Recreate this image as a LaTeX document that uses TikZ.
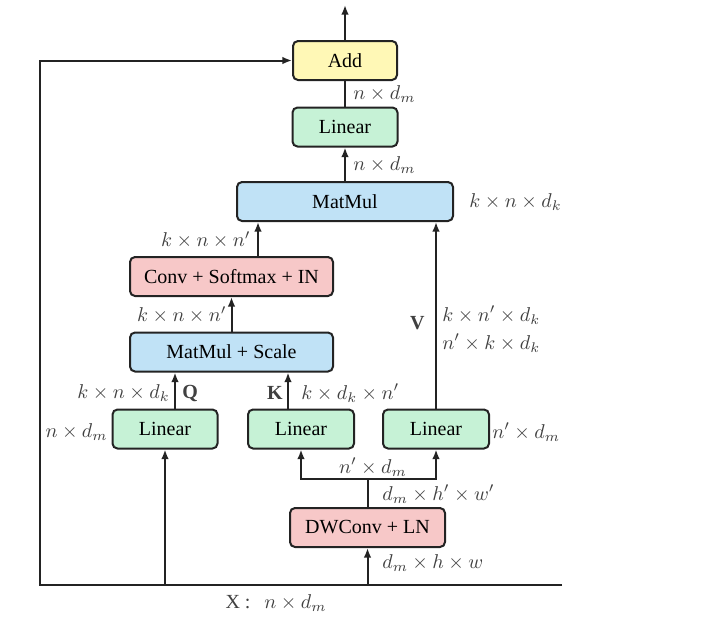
\documentclass[tikz,border=0pt]{standalone}
\usepackage{fontspec}
\setmainfont{Liberation Serif}
\usetikzlibrary{arrows.meta,calc}
\definecolor{addc}{RGB}{255,248,182}
\definecolor{linc}{RGB}{198,242,214}
\definecolor{mmc}{RGB}{192,226,246}
\definecolor{convc}{RGB}{247,200,200}
\definecolor{edge}{RGB}{35,35,35}
\begin{document}
\begin{tikzpicture}[x=0.5pt,y=-0.5pt,
  box/.style={draw=edge,line width=1pt,rounded corners=2.5pt,minimum height=19.5pt,inner sep=0pt,font=\fontsize{10}{12}\selectfont},
  arr/.style={-{Latex[length=4.8pt,width=3.8pt]},line width=1pt,draw=edge},
  ln/.style={line width=1pt,draw=edge},
  lbl/.style={font=\fontsize{10}{12}\selectfont,inner sep=1pt,text=black!75}]
\fill[white] (0,0) rectangle (710,622);
\useasboundingbox (0,0) rectangle (710,622);

% boxes
\node[box,fill=addc,minimum width=52pt] (add) at (345,60.5) {Add};
\node[box,fill=linc,minimum width=52.5pt] (lin) at (345,127) {Linear};
\node[box,fill=mmc,minimum width=108pt] (mm) at (345,201.5) {MatMul};
\node[box,fill=convc,minimum width=101.5pt] (conv) at (231.5,276.5) {Conv + Softmax + IN};
\node[box,fill=mmc,minimum width=101.5pt] (mms) at (231.5,352) {MatMul + Scale};
\node[box,fill=linc,minimum width=52.5pt] (lq) at (165,429) {Linear};
\node[box,fill=linc,minimum width=53pt] (lk) at (301,429) {Linear};
\node[box,fill=linc,minimum width=53pt] (lv) at (436,429) {Linear};
\node[box,fill=convc,minimum width=77.5pt] (dw) at (367.5,527.5) {DWConv + LN};

% coordinates
\coordinate (top) at (345,5);
\coordinate (xl) at (40,585);
\coordinate (xr) at (562,585);
\coordinate (split) at (367.5,479);
\coordinate (qo) at (175,410);
\coordinate (ko) at (288,410);
\coordinate (co) at (258,257);

% connectors
\draw[arr] (add.north) -- (top);
\draw[ln] (lin.north) -- (add.south);
\draw[arr] (mm.north) -- (lin.south);
\draw[arr] (co) -- (co |- mm.south);
\draw[arr] (lv.north) -- (lv.north |- mm.south);
\draw[arr] (mms.north) -- (conv.south);
\draw[arr] (qo) -- (qo |- mms.south);
\draw[arr] (ko) -- (ko |- mms.south);
\draw[arr] (xr) -- (xl) -- (xl |- add.west) -- (add.west);
\draw[arr] (xl -| lq.south) -- (lq.south);
\draw[arr] (xl -| dw.south) -- (dw.south);
\draw[ln] (dw.north) -- (split);
\draw[arr] (split) -| (lk.south);
\draw[arr] (split) -| (lv.south);

% labels
\node[lbl,anchor=west] (l1) at (351,94) {$n\times d_m$};
\node[lbl,anchor=west] (l2) at (351,165) {$n\times d_m$};
\node[lbl,anchor=west] (l3) at (467,202) {$k\times n\times d_k$};
\node[lbl,anchor=east] (l4) at (253,240) {$k\times n\times n'$};
\node[lbl,anchor=east] (l5) at (229,315) {$k\times n\times n'$};
\node[lbl,anchor=east] (l6) at (172,393) {$k\times n\times d_k$};
\node[lbl,anchor=west] (l7) at (180,393) {\textbf{Q}};
\node[lbl,anchor=east] (l8) at (285,393) {\textbf{K}};
\node[lbl,anchor=west] (l9) at (299,393) {$k\times d_k\times n'$};
\node[lbl,anchor=east] (l10) at (110,432) {$n\times d_m$};
\node[lbl,anchor=west] (l11) at (490,432) {$n'\times d_m$};
\node[lbl,anchor=east] (l12) at (427,323) {\textbf{V}};
\node[lbl,anchor=west] (l13) at (440,315) {$k\times n'\times d_k$};
\node[lbl,anchor=west] (l14) at (440,343) {$n'\times k\times d_k$};
\node[lbl] (l15) at (373,467) {$n'\times d_m$};
\node[lbl,anchor=west] (l16) at (380,494) {$d_m\times h'\times w'$};
\node[lbl,anchor=west] (l17) at (380,563) {$d_m\times h\times w$};
\node[lbl] (l18) at (276,603) {X :\;\, $n\times d_m$};
\end{tikzpicture}
\end{document}
